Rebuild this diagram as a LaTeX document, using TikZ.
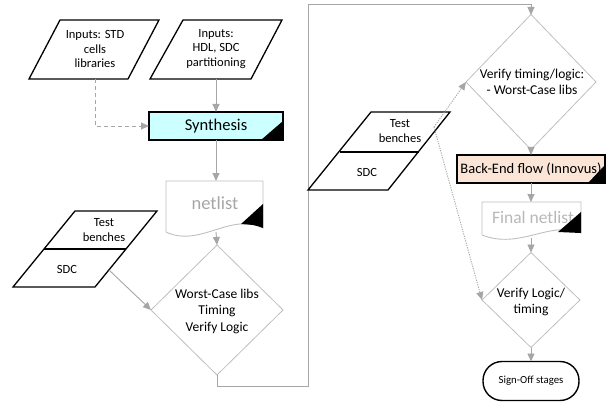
\documentclass[tikz,border=0pt]{standalone}
\usepackage{fontspec}
\setmainfont{Carlito}
\usetikzlibrary{shapes.geometric,arrows.meta}
\definecolor{conncol}{HTML}{A6A6A6}
\definecolor{shapegray}{HTML}{BFBFBF}
\definecolor{synfill}{HTML}{CCFFFF}
\definecolor{befill}{HTML}{FBE5D6}
\begin{document}
\begin{tikzpicture}[x=1pt,y=-1pt,
  conn/.style={draw=conncol, line width=0.9pt, -{Triangle[length=8pt,width=7pt]}},
  dotconn/.style={conn, dash pattern=on 1.2pt off 1.2pt},
  dashconn/.style={conn, dash pattern=on 4pt off 3pt},
  iobox/.style={draw=black, line width=1.3pt, line join=miter},
  txt/.style={align=center, font=\fontsize{12.5}{14.8}\selectfont, inner sep=0pt},
  dtxt/.style={align=center, font=\fontsize{13.5}{16.5}\selectfont, inner sep=0pt},
  dia/.style={diamond, draw=shapegray, line width=0.8pt, inner sep=0pt, outer sep=0pt},
  procbox/.style={rectangle, draw=black, line width=1.4pt, inner sep=0pt, outer sep=0pt},
  docshape/.style={draw=shapegray, line width=0.9pt},
  cornertri/.style={fill=black}
]
\useasboundingbox (0,0) rectangle (606,404);

% --- Inputs parallelograms
\draw[iobox] (60,20) -- (159,20) -- (128,79) -- (29,79) -- cycle;
\node[txt] (instd) at (95,49) {Inputs: STD\\cells\\libraries};
\coordinate (instdb) at (95,79);
\draw[iobox] (183,20) -- (282,20) -- (251,79) -- (150,79) -- cycle;
\node[txt] (inhdl) at (216,49) {Inputs:\\HDL, SDC\\partitioning};
\coordinate (inhdlb) at (216,79);

% --- Synthesis
\node[procbox, fill=synfill, minimum width=134pt, minimum height=28pt,
      font=\fontsize{16.5}{18}\selectfont] (syn) at (216,126) {Synthesis};
\fill[cornertri] (syn.south east) -- ([xshift=-22pt]syn.south east) -- ([yshift=19pt]syn.south east) -- cycle;
\draw[dashconn] (instdb) |- (syn.west);
\draw[conn] (inhdlb) -- (syn.north);

% --- netlist document
\draw[docshape] (166,181) -- (263,181) -- (263,228) .. controls (230,212) and (200,248) .. (166,232) -- cycle;
\fill[cornertri] (241,224) -- (263,204) -- (263,228) .. controls (255,225) .. cycle;
\node[font=\fontsize{18.5}{20}\selectfont, text=conncol, inner sep=0pt] (net) at (215,203) {netlist};
\coordinate (nettop) at (216,181);
\coordinate (netbot) at (216,232);
\draw[conn] (syn.south) -- (nettop);

% --- diamond 1
\node[dia, minimum width=132pt, minimum height=130pt] (d1) at (217,310) {};
\node[dtxt] (d1t) at (217,311) {Worst-Case libs\\Timing\\Verify Logic};
\draw[conn] (netbot) -- (d1.north);

% --- Test benches / SDC (left)
\draw[iobox] (75,211) -- (157,211) -- (95,287) -- (13,287) -- cycle;
\draw[iobox] (44,249) -- (126,249);
\node[txt] (tb1) at (104,230) {Test\\benches};
\node[txt] (sdc1) at (67,269) {SDC};
\coordinate (sdc1r) at (109,270);
\draw[conn] (sdc1r) -- (d1.west);

% --- long connector
\draw[conn] (d1.south) -- (217,386) -- (308,386) -- (308,4) -- (531,4) -- (531,15);

% --- diamond 2
\node[dia, minimum width=130pt, minimum height=135pt] (d2) at (531,82) {};
\node[dtxt] (d2t) at (532,82) {Verify timing/logic:\\- Worst-Case libs};

% --- Test benches / SDC (right)
\draw[iobox] (371,112) -- (450,112) -- (388,190) -- (308,190) -- cycle;
\draw[iobox] (340,152) -- (419,152);
\node[txt] (tb2) at (400,131) {Test\\benches};
\node[txt] (sdc2) at (367,172) {SDC};
\coordinate (tb2r) at (434,127);

% --- Back-End flow
\node[procbox, fill=befill, minimum width=148pt, minimum height=28pt,
      font=\fontsize{14.5}{16}\selectfont] (be) at (531,169) {Back-End flow (Innovus)};
\fill[cornertri] (be.south east) -- ([xshift=-17pt]be.south east) -- ([yshift=18pt]be.south east) -- cycle;
\draw[conn] (d2.south) -- (be.north);

% --- Final netlist document
\draw[docshape] (482,202) -- (581,202) -- (581,233) .. controls (550,220) and (520,250) .. (482,235) -- cycle;
\node[font=\fontsize{17.5}{19}\selectfont, text=conncol!80, inner sep=0pt] (fnet) at (533,217) {Final netlist};
\fill[cornertri] (558,232) -- (581,212) -- (581,233) -- cycle;
\coordinate (fnettop) at (531,202);
\coordinate (fnetbot) at (531,238);
\draw[conn] (be.south) -- (fnettop);

% --- diamond 3
\node[dia, minimum width=98pt, minimum height=95pt] (d3) at (531,300) {};
\node[dtxt] (d3t) at (531,302) {Verify Logic/\\timing};
\draw[conn] (fnetbot) -- (d3.north);

% --- dotted connectors
\draw[dotconn] (tb2r) -- (d2.west);
\draw[dotconn] (tb2r) -- (d3.west);

% --- Sign-off
\node[draw=black, line width=1.4pt, rounded corners=19pt, minimum width=96pt, minimum height=39pt,
      inner sep=0pt, outer sep=0pt, font=\fontsize{10.8}{12}\selectfont] (so) at (531,381) {Sign-Off stages};
\draw[conn] (d3.south) -- (so.north);
\end{tikzpicture}
\end{document}
